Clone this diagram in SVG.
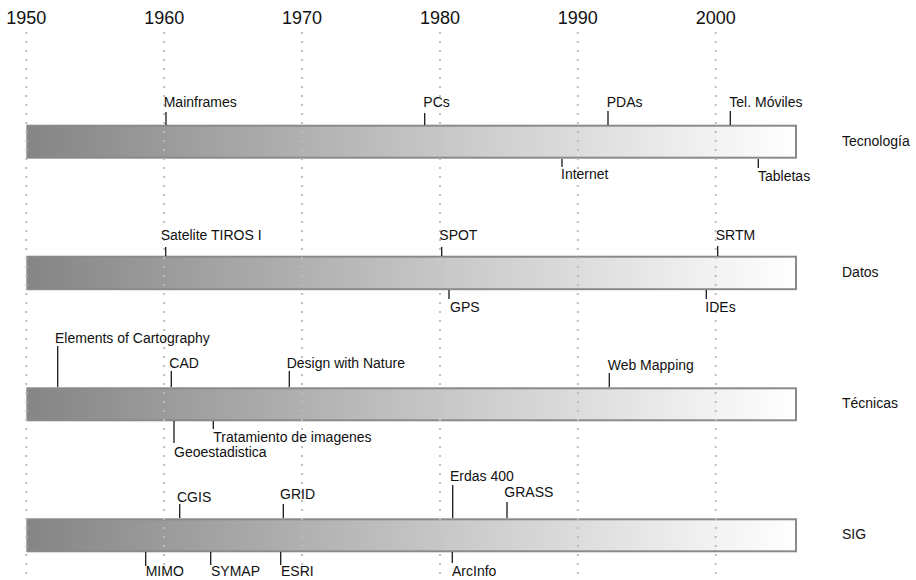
<svg xmlns="http://www.w3.org/2000/svg" width="916" height="580" viewBox="0 0 916 580">
<defs>
<linearGradient id="barGrad" x1="0" y1="0" x2="1" y2="0">
<stop offset="0" stop-color="#858585"/>
<stop offset="1" stop-color="#ffffff"/>
</linearGradient>
</defs>
<style>
.year{font-family:"Liberation Sans",Arial,sans-serif;font-size:18px;fill:#111;text-anchor:middle}
.lbl{font-family:"Liberation Sans",Arial,sans-serif;font-size:14px;fill:#111}
.cat{font-family:"Liberation Sans",Arial,sans-serif;font-size:14px;fill:#111}
.bar{fill:url(#barGrad);stroke:#8a8a8a;stroke-width:2}
.grid{stroke:#bdbdbd;stroke-width:2;stroke-dasharray:2 7}
.tick{stroke:#1a1a1a;stroke-width:1.3}
</style>
<rect x="0" y="0" width="916" height="580" fill="#ffffff"/>

<g id="bars">
<rect id="bar-tecnologia" class="bar" x="27.3" y="125.7" width="768.7" height="32"/>
<rect id="bar-datos" class="bar" x="27.3" y="256.7" width="768.7" height="32.5"/>
<rect id="bar-tecnicas" class="bar" x="27.3" y="388.3" width="768.7" height="32"/>
<rect id="bar-sig" class="bar" x="27.3" y="519.3" width="768.7" height="32"/>
</g>

<g id="axis">
<text class="year" x="26.3" y="24">1950</text>
<text class="year" x="164.2" y="24">1960</text>
<text class="year" x="302.1" y="24">1970</text>
<text class="year" x="440" y="24">1980</text>
<text class="year" x="577.8" y="24">1990</text>
<text class="year" x="715.7" y="24">2000</text>
<line class="grid" x1="26.3" y1="32" x2="26.3" y2="580"/>
<line class="grid" x1="164.2" y1="32" x2="164.2" y2="580"/>
<line class="grid" x1="302.1" y1="32" x2="302.1" y2="580"/>
<line class="grid" x1="440" y1="32" x2="440" y2="580"/>
<line class="grid" x1="577.8" y1="32" x2="577.8" y2="580"/>
<line class="grid" x1="715.7" y1="32" x2="715.7" y2="580"/>
</g>

<g id="categories">
<text id="cat-tecnologia" class="cat" x="842" y="146">Tecnología</text>
<text id="cat-datos" class="cat" x="842" y="277">Datos</text>
<text id="cat-tecnicas" class="cat" x="842" y="408">Técnicas</text>
<text id="cat-sig" class="cat" x="842" y="539">SIG</text>
</g>

<g id="connectors">
<line class="tick" x1="166" y1="112" x2="166" y2="125"/>
<line class="tick" x1="424.7" y1="113" x2="424.7" y2="125"/>
<line class="tick" x1="608" y1="111" x2="608" y2="125"/>
<line class="tick" x1="730.3" y1="111" x2="730.3" y2="125"/>
<line class="tick" x1="562" y1="159" x2="562" y2="167"/>
<line class="tick" x1="758.3" y1="159" x2="758.3" y2="168"/>
<line class="tick" x1="165.7" y1="247" x2="165.7" y2="256"/>
<line class="tick" x1="441.7" y1="247" x2="441.7" y2="256"/>
<line class="tick" x1="717.7" y1="246" x2="717.7" y2="256"/>
<line class="tick" x1="449" y1="290" x2="449" y2="299"/>
<line class="tick" x1="706.3" y1="290" x2="706.3" y2="299"/>
<line class="tick" x1="57.7" y1="346" x2="57.7" y2="387"/>
<line class="tick" x1="171.3" y1="371" x2="171.3" y2="387"/>
<line class="tick" x1="289.3" y1="371" x2="289.3" y2="387"/>
<line class="tick" x1="609.3" y1="373" x2="609.3" y2="387"/>
<line class="tick" x1="213.3" y1="421" x2="213.3" y2="429"/>
<line class="tick" x1="174" y1="421" x2="174" y2="443"/>
<line class="tick" x1="179.7" y1="504" x2="179.7" y2="518"/>
<line class="tick" x1="283.3" y1="504" x2="283.3" y2="518"/>
<line class="tick" x1="452.7" y1="485" x2="452.7" y2="518"/>
<line class="tick" x1="507" y1="502" x2="507" y2="518"/>
<line class="tick" x1="145.7" y1="552" x2="145.7" y2="566"/>
<line class="tick" x1="210.7" y1="552" x2="210.7" y2="565"/>
<line class="tick" x1="280.7" y1="552" x2="280.7" y2="565"/>
<line class="tick" x1="452.3" y1="552" x2="452.3" y2="563"/>
</g>

<g id="ev-mainframes"><text class="lbl" x="163.7" y="107">Mainframes</text></g>
<g id="ev-pcs"><text class="lbl" x="423.3" y="107">PCs</text></g>
<g id="ev-pdas"><text class="lbl" x="606.7" y="107">PDAs</text></g>
<g id="ev-moviles"><text class="lbl" x="729.3" y="107">Tel. Móviles</text></g>
<g id="ev-internet"><text class="lbl" x="561" y="179.3">Internet</text></g>
<g id="ev-tabletas"><text class="lbl" x="758" y="181">Tabletas</text></g>

<g id="ev-tiros"><text class="lbl" x="160.7" y="240">Satelite TIROS I</text></g>
<g id="ev-spot"><text class="lbl" x="439.3" y="240">SPOT</text></g>
<g id="ev-srtm"><text class="lbl" x="715.7" y="240">SRTM</text></g>
<g id="ev-gps"><text class="lbl" x="450" y="311.7">GPS</text></g>
<g id="ev-ides"><text class="lbl" x="705.3" y="311.7">IDEs</text></g>

<g id="ev-elements"><text class="lbl" x="55" y="342.7">Elements of Cartography</text></g>
<g id="ev-cad"><text class="lbl" x="169.3" y="367.7">CAD</text></g>
<g id="ev-design"><text class="lbl" x="286.7" y="367.7">Design with Nature</text></g>
<g id="ev-webmapping"><text class="lbl" x="607.7" y="370">Web Mapping</text></g>
<g id="ev-tratamiento"><text class="lbl" x="213.3" y="441.7">Tratamiento de imagenes</text></g>
<g id="ev-geoestadistica"><text class="lbl" x="174" y="457.3">Geoestadistica</text></g>

<g id="ev-cgis"><text class="lbl" x="177" y="501.7">CGIS</text></g>
<g id="ev-grid"><text class="lbl" x="280" y="499.3">GRID</text></g>
<g id="ev-erdas"><text class="lbl" x="450" y="480.7">Erdas 400</text></g>
<g id="ev-grass"><text class="lbl" x="504.3" y="497.3">GRASS</text></g>
<g id="ev-mimo"><text class="lbl" x="145.7" y="576">MIMO</text></g>
<g id="ev-symap"><text class="lbl" x="211" y="576">SYMAP</text></g>
<g id="ev-esri"><text class="lbl" x="281" y="576">ESRI</text></g>
<g id="ev-arcinfo"><text class="lbl" x="452" y="576">ArcInfo</text></g>
</svg>
